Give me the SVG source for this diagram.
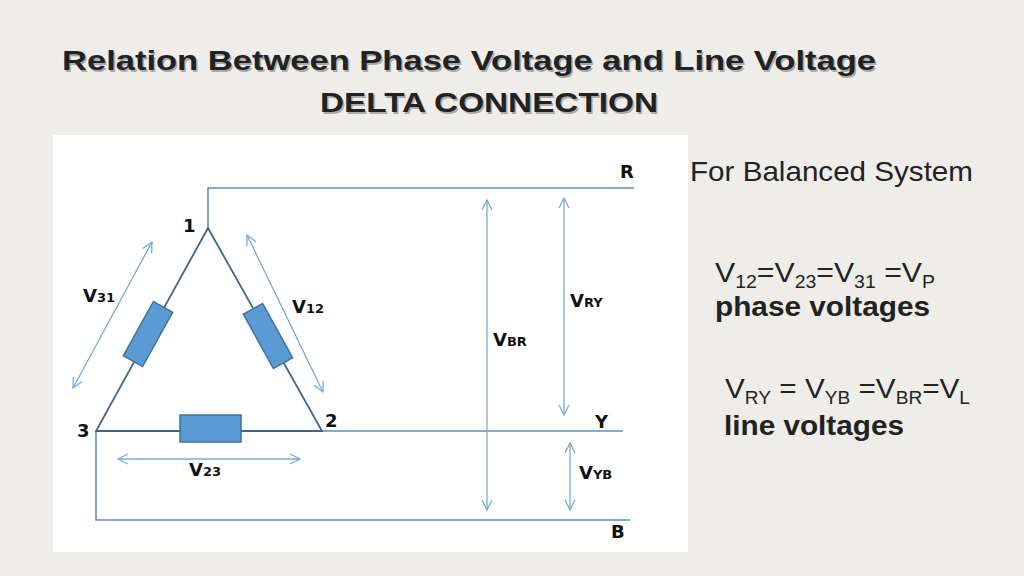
<svg xmlns="http://www.w3.org/2000/svg" width="1024" height="576" viewBox="0 0 1024 576">
<defs>
<style>
.w{stroke:#5b8fc0;stroke-width:1.6;fill:none}
.d{stroke:#3f6487;stroke-width:1.8;fill:none}
.a{stroke:#7aa9d8;stroke-width:1.3;fill:none;marker-start:url(#h);marker-end:url(#h)}
.r{fill:#5b9bd5;stroke:#41719c;stroke-width:1.5}
.l{font-family:"DejaVu Sans",sans-serif;font-weight:bold;font-size:18px;fill:#111}
.s{font-size:13px}
.t{font-family:"Liberation Sans",Arial,sans-serif;font-weight:bold;font-size:28px;fill:#222}
</style>
<marker id="h" viewBox="0 0 12 12" refX="11" refY="6" markerWidth="12" markerHeight="12" orient="auto-start-reverse" markerUnits="userSpaceOnUse"><path d="M1,1 L11,6 L1,11" fill="none" stroke="#7aa9d8" stroke-width="1.3"/></marker>
</defs>
<rect width="1024" height="576" fill="#efedea"/>
<g id="title">
<text class="t" x="63.5" y="71.5" style="fill:#aaa" textLength="814" lengthAdjust="spacingAndGlyphs">Relation Between Phase Voltage and Line Voltage</text>
<text class="t" x="62" y="70" textLength="814" lengthAdjust="spacingAndGlyphs">Relation Between Phase Voltage and Line Voltage</text>
<text class="t" x="321.5" y="113.5" style="fill:#aaa" textLength="338" lengthAdjust="spacingAndGlyphs">DELTA CONNECTION</text>
<text class="t" x="320" y="112" textLength="338" lengthAdjust="spacingAndGlyphs">DELTA CONNECTION</text>
</g>
<rect x="53" y="135" width="635" height="417" fill="#fff"/>
<g id="connectors">
<path class="w" d="M208,228 V188 H634"/>
<path class="w" d="M322,431 H623"/>
<path class="w" d="M96,431 V520 H630"/>
<path class="d" d="M208,228 L96,431 H322 Z"/>
<line class="a" x1="73" y1="388" x2="152" y2="242"/>
<line class="a" x1="247" y1="235" x2="323" y2="392"/>
<line class="a" x1="118" y1="459" x2="300" y2="459"/>
<line class="a" x1="487" y1="200" x2="487" y2="510"/>
<line class="a" x1="564" y1="198" x2="564" y2="415"/>
<line class="a" x1="570" y1="443" x2="570" y2="510"/>
</g>
<g id="r31"><rect class="r" x="-31" y="-11" width="62" height="22" transform="translate(148,334) rotate(-61)"/></g>
<g id="r12"><rect class="r" x="-31" y="-11" width="62" height="22" transform="translate(268,336) rotate(61)"/></g>
<g id="r23"><rect class="r" x="180" y="415" width="61" height="27"/></g>
<g id="labels">
<text class="l" x="183" y="232">1</text>
<text class="l" x="325" y="427">2</text>
<text class="l" x="77" y="437">3</text>
<text class="l" x="83" y="302">V<tspan class="s">31</tspan></text>
<text class="l" x="292" y="313">V<tspan class="s">12</tspan></text>
<text class="l" x="189" y="476">V<tspan class="s">23</tspan></text>
<text class="l" x="493" y="346">V<tspan class="s">BR</tspan></text>
<text class="l" x="570" y="307">V<tspan class="s">RY</tspan></text>
<text class="l" x="579" y="479">V<tspan class="s">YB</tspan></text>
<text class="l" x="620" y="178">R</text>
<text class="l" x="595" y="428">Y</text>
<text class="l" x="611" y="538">B</text>
</g>
<g id="text" font-family="Liberation Sans,Arial,sans-serif" fill="#222">
<text x="690" y="181" font-size="28" textLength="283" lengthAdjust="spacingAndGlyphs">For Balanced System</text>
<text x="715" y="282" font-size="28" textLength="220" lengthAdjust="spacingAndGlyphs">V<tspan font-size="18" dy="6">12</tspan><tspan dy="-6">=V</tspan><tspan font-size="18" dy="6">23</tspan><tspan dy="-6">=V</tspan><tspan font-size="18" dy="6">31</tspan><tspan dy="-6"> =V</tspan><tspan font-size="18" dy="6">P</tspan></text>
<text x="715" y="316" font-size="28" font-weight="bold" textLength="215" lengthAdjust="spacingAndGlyphs">phase voltages</text>
<text x="725" y="398" font-size="28" textLength="245" lengthAdjust="spacingAndGlyphs">V<tspan font-size="18" dy="6">RY</tspan><tspan dy="-6"> = V</tspan><tspan font-size="18" dy="6">YB</tspan><tspan dy="-6"> =V</tspan><tspan font-size="18" dy="6">BR</tspan><tspan dy="-6">=V</tspan><tspan font-size="18" dy="6">L</tspan></text>
<text x="724" y="435" font-size="28" font-weight="bold" textLength="180" lengthAdjust="spacingAndGlyphs">line voltages</text>
</g>
</svg>
